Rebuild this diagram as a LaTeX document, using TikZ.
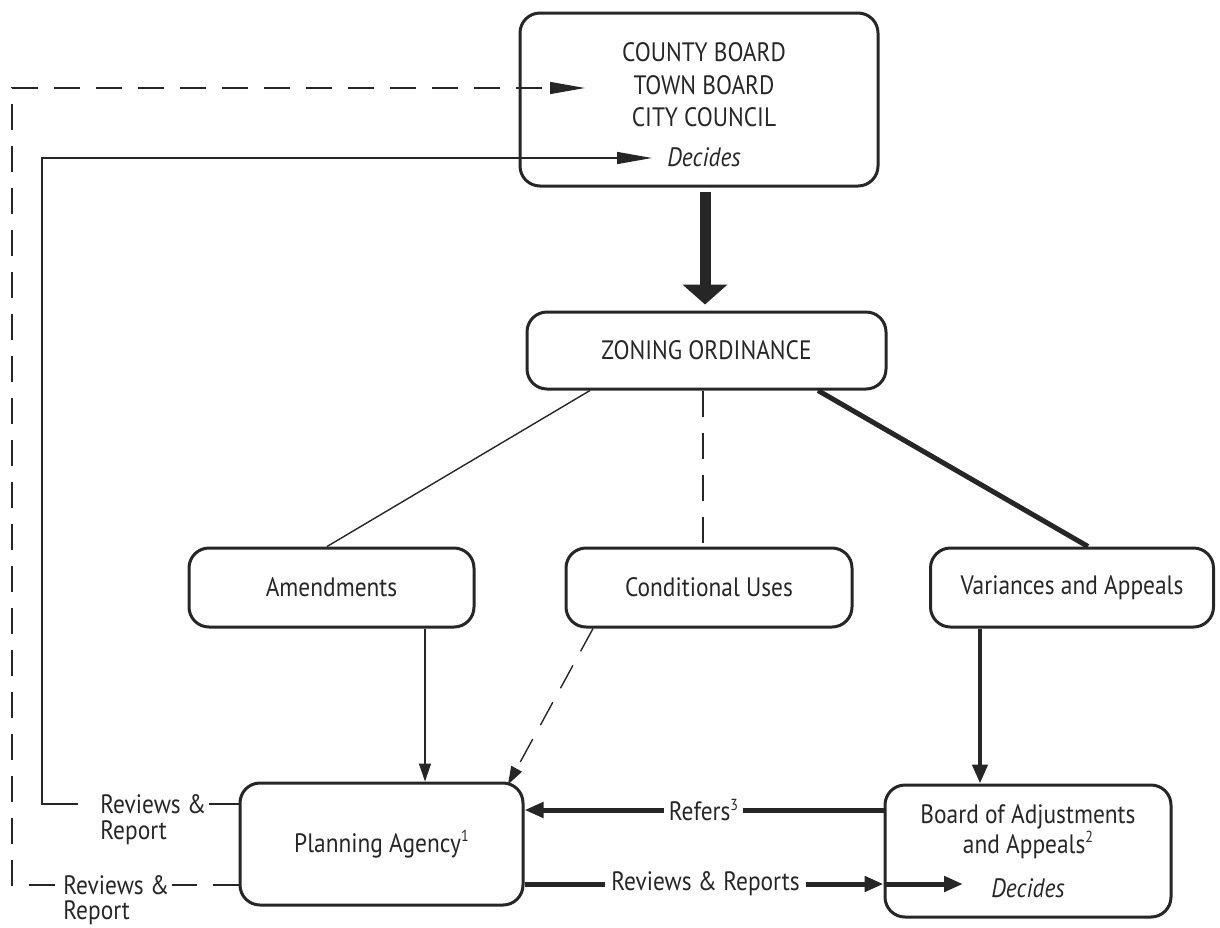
\documentclass[tikz,border=0pt]{standalone}
\usepackage{fontspec}
\setmainfont[FakeStretch=0.88]{PT Sans}
\usetikzlibrary{calc,arrows.meta}
\newcommand{\fnmark}[1]{\raisebox{0.8ex}{\fontsize{8}{8}\selectfont #1}}
\tikzset{
  box/.style={draw, line width=1.5pt, rounded corners=10pt, align=center,
    font=\fontsize{13.3}{16.25}\selectfont},
  lbl/.style={inner sep=1pt, font=\fontsize{13.3}{13}\selectfont},
  thinline/.style={line width=0.7pt},
  thickline/.style={line width=2.5pt},
  dashline/.style={line width=0.7pt, dash pattern=on 13pt off 8pt},
  smalltip/.style={-{Triangle[length=9pt,width=6pt]}},
  thicktip/.style={-{Triangle[length=9.5pt,width=7.5pt]}},
  longtip/.style={-{Triangle[length=17.5pt,width=6pt]}},
  bigarrow/.style={line width=5.5pt, -{Triangle[length=10pt,width=22pt]}}
}
\begin{document}
\begin{tikzpicture}[x=0.5pt,y=-0.5pt,color=black!85]
  \useasboundingbox (0,0) rectangle (1220,927);
  % boxes
  \node[box, minimum width=179pt, minimum height=86.5pt] (county) at (699,99.5) {};
  \node[align=center, font=\fontsize{13.3}{16.25}\selectfont] (countytxt) at (704,105)
    {COUNTY BOARD\\TOWN BOARD\\CITY COUNCIL\\[3.75pt]\textit{Decides}};
  \node[box, minimum width=179.5pt, minimum height=38.5pt] (zoning) at (706.5,350.5) {ZONING ORDINANCE};
  \node[box, minimum width=142.5pt, minimum height=39.5pt] (amend) at (331.5,587.5) {Amendments};
  \node[box, minimum width=143pt, minimum height=39.5pt] (conduse) at (709,587.5) {Conditional Uses};
  \node[box, minimum width=141.5pt, minimum height=39.5pt] (variance) at (1072,587.5) {Variances and Appeals};
  \node[box, minimum width=141.5pt, minimum height=61pt] (planning) at (381.5,844) {Planning Agency\fnmark{1}};
  \node[box, minimum width=143pt, minimum height=66pt, font=\fontsize{13.3}{15}\selectfont] (board) at (1028,851)
    {Board of Adjustments\\and Appeals\fnmark{2}\\[7pt]\textit{Decides}};
  % labels
  \node[lbl, anchor=west] (revA) at (98,804) {Reviews \&};
  \node[lbl, anchor=base west] (repA) at ([yshift=-13pt]revA.base west) {Report};
  \node[lbl, anchor=west] (revB) at (61,885) {Reviews \&};
  \node[lbl, anchor=base west] (repB) at ([yshift=-12.5pt]revB.base west) {Report};
  \node[lbl, inner sep=2pt] (refers) at (703.5,810) {Refers\fnmark{3}};
  \node[lbl, inner sep=3pt] (revrep) at (705.5,884) {Reviews \& Reports};
  \coordinate (fbA) at (42,158);
  \coordinate (fbAend) at (652,158);
  \coordinate (fbB) at (12,88);
  \coordinate (fbBend) at (585,88);
  \coordinate (decin) at (963,884);

  \draw[bigarrow, shorten <=2pt, shorten >=3pt] ($(county.south)+(6,0)$) -- ($(zoning.north)+(-1.5,0)$);
  \draw[thinline] ($(zoning.south)+(-116.5,0)$) -- ($(amend.north)+(-4.5,0)$);
  \draw[dashline] ($(zoning.south)+(-3.5,0)$) -- ($(conduse.north)+(-6,0)$);
  \draw[thickline] ($(zoning.south)+(111.5,0)$) -- ($(variance.north)+(16,0)$);

  \draw[thinline, smalltip] ($(amend.south)+(93.5,0)$) -- ($(planning.north)+(43.5,0)$);
  \draw[dashline, smalltip] ($(conduse.south)+(-116,0)$) -- ($(planning.north)+(126.5,3)$);
  \draw[line width=2.2pt, thicktip] ($(variance.south)+(-92,0)$) -- ($(board.north)+(-48,0)$);

  \draw[thickline] (board.west |- refers) -- (refers.east);
  \draw[thickline, thicktip] (refers.west) -- (planning.east |- refers);
  \draw[thickline] (planning.east |- revrep) -- (revrep.west);
  \draw[thickline, thicktip] (revrep.east) -- (board.west |- revrep);
  \draw[thickline, thicktip] (board.west |- revrep) -- (decin);

  % feedback to the board
  \draw[thinline] (planning.west |- revA) -- (revA.east);
  \draw[thinline, longtip] ([xshift=-10pt]revA.west) -- (fbA |- revA) -- (fbA) -- (fbAend);
  \draw[dashline] (planning.west |- revB) -- (revB.east);
  \draw[dashline, longtip] ([xshift=-3pt]revB.west) -- (fbB |- revB) -- (fbB) -- (fbBend);
\end{tikzpicture}
\end{document}
